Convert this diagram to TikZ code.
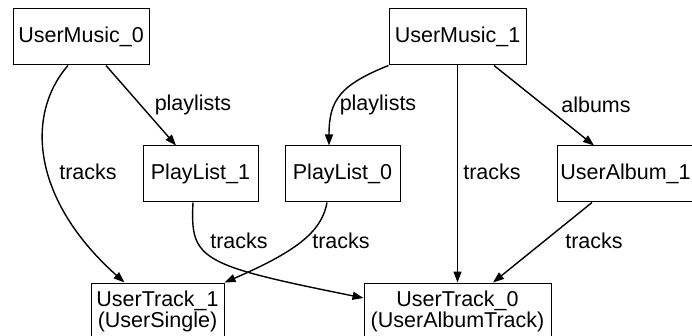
\documentclass[tikz,border=0pt]{standalone}
\usepackage{fontspec}
\setmainfont{Liberation Sans}
\usetikzlibrary{arrows.meta}
\tikzstyle{ObjBox}=[rectangle, draw=black, line width=1pt, inner sep=0pt, minimum height=56pt, font=\fontsize{21.5}{21}\selectfont, align=center]
\tikzstyle{RefLabel}=[inner sep=0pt, font=\fontsize{21.5}{21}\selectfont]
\tikzstyle{RefArrow}=[-{Triangle[length=11pt, width=8pt]}, line width=1.4pt]

\begin{document}
\begin{tikzpicture}[x=1pt, y=-1pt]
	\useasboundingbox (0,0) rectangle (692,336);
	\clip (0,0) rectangle (692,336);

	%Nodes
	\node[ObjBox, minimum width=136pt]	(user_music0)	at (81,37)		{UserMusic\_0};
	\node[ObjBox, minimum width=137pt]	(user_music1)	at (457.5,37)	{UserMusic\_1};

	\node[ObjBox, minimum width=115pt]	(playlist1)		at (200.5,174)	{PlayList\_1};
	\node[ObjBox, minimum width=115pt]	(playlist0)		at (342.5,174)	{PlayList\_0};
	\node[ObjBox, minimum width=137pt]	(user_album1)	at (625.5,174)	{UserAlbum\_1};

	\node[ObjBox, minimum width=133pt]	(user_track1)	at (157.5,311)	{UserTrack\_1\\(UserSingle)};
	\node[ObjBox, minimum width=187pt]	(user_track0)	at (457.5,311)	{UserTrack\_0\\(UserAlbumTrack)};

	%Labels
	\node[RefLabel]	(lbl_m0_tracks)		at (88,172)		{tracks};
	\node[RefLabel]	(lbl_m0_playlists)	at (193,105)	{playlists};
	\node[RefLabel]	(lbl_m1_playlists)	at (378,105)	{playlists};
	\node[RefLabel]	(lbl_m1_tracks)		at (492,172)	{tracks};
	\node[RefLabel]	(lbl_m1_albums)		at (596,105)	{albums};
	\node[RefLabel]	(lbl_p1_tracks)		at (239,241)	{tracks};
	\node[RefLabel]	(lbl_p0_tracks)		at (341,241)	{tracks};
	\node[RefLabel]	(lbl_a1_tracks)		at (594,241)	{tracks};

	%Lines
	\draw[RefArrow] ([xshift=-13pt]user_music0.south) .. controls (25,115) and (32,200) .. ([xshift=-33pt]user_track1.north);
	\draw[RefArrow] ([xshift=25pt]user_music0.south) -- ([xshift=-24.5pt]playlist1.north);
	\draw[RefArrow] (user_music1.south west) .. controls (340,85) and (329,100) .. ([xshift=-13.5pt]playlist0.north);
	\draw[RefArrow] (user_music1.south) -- (user_track0.north);
	\draw[RefArrow] ([xshift=36.5pt]user_music1.south) -- ([xshift=-31.5pt]user_album1.north);
	\draw[RefArrow] ([xshift=-7.5pt]playlist1.south) .. controls (190,260) and (200,265) .. ([yshift=13pt]user_track0.west);
	\draw[RefArrow] ([xshift=-15.5pt]playlist0.south) .. controls (322,230) and (300,250) .. (user_track1.north east);
	\draw[RefArrow] ([xshift=-33.5pt]user_album1.south) -- ([xshift=35.5pt]user_track0.north);

\end{tikzpicture}
\end{document}
